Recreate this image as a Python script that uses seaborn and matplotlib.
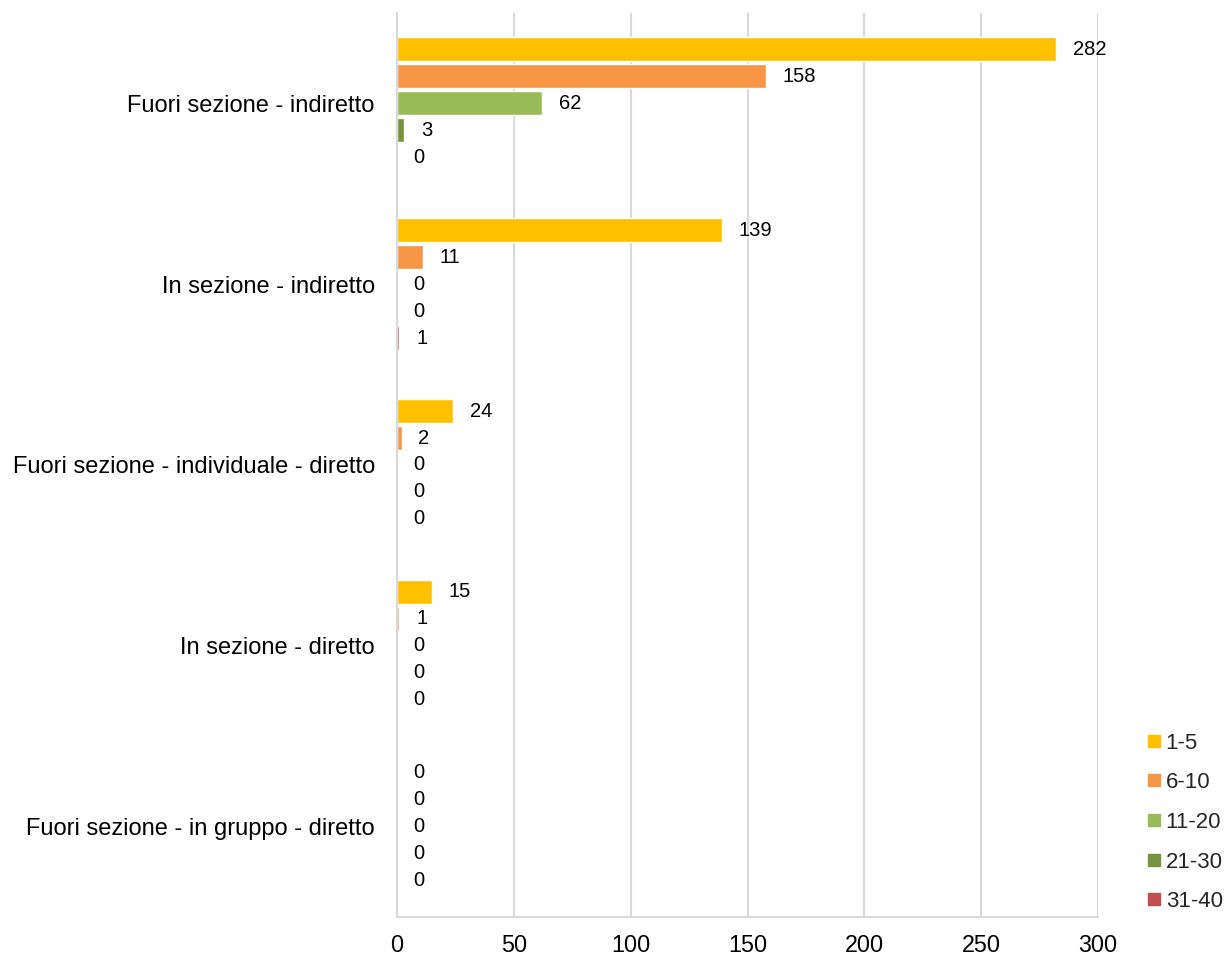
import matplotlib
matplotlib.use("Agg")
import matplotlib.pyplot as plt
from matplotlib.lines import Line2D
import pandas as pd
import seaborn as sns

categories = [
    "Fuori sezione - indiretto",
    "In sezione - indiretto",
    "Fuori sezione - individuale - diretto",
    "In sezione - diretto",
    "Fuori sezione - in gruppo - diretto",
]
bands = ["1-5", "6-10", "11-20", "21-30", "31-40"]
colors = ["#FFC000", "#F79646", "#9BBB59", "#77933C", "#C0504D"]
values = {
    "1-5": [282, 139, 24, 15, 0],
    "6-10": [158, 11, 2, 1, 0],
    "11-20": [62, 0, 0, 0, 0],
    "21-30": [3, 0, 0, 0, 0],
    "31-40": [0, 1, 0, 0, 0],
}
x_ticks = [0, 50, 100, 150, 200, 250, 300]

df = pd.DataFrame(
    [(cat, band, values[band][i]) for band in bands for i, cat in enumerate(categories)],
    columns=["category", "band", "value"],
)

sns.set_theme(style="white")
plt.rcParams["font.family"] = ["Liberation Sans", "DejaVu Sans"]
plt.rcParams["font.size"] = 14

fig = plt.figure(figsize=(12.3, 9.56), dpi=100)
ax = fig.add_axes([0.3228, 0.0408, 0.5699, 0.9456])

sns.barplot(data=df, x="value", y="category", hue="band", order=categories,
            hue_order=bands, palette=colors, orient="h", width=0.746, gap=0.11,
            saturation=1, errorbar=None, legend=False, ax=ax)

for cont in ax.containers:
    ax.bar_label(cont, fmt="%.0f", padding=12, fontsize=14.5, color="#000000")

ax.set_xlim(0, 300)
ax.set_ylim(4.5, -0.5)
ax.set_xticks(x_ticks)
ax.set_xlabel("")
ax.set_ylabel("")
ax.xaxis.grid(True, color="#D9D9D9", linewidth=1.5)
ax.set_axisbelow(True)
for side in ["top", "right"]:
    ax.spines[side].set_visible(False)
for side in ["left", "bottom"]:
    ax.spines[side].set_color("#D9D9D9")
    ax.spines[side].set_linewidth(1.5)
ax.tick_params(axis="x", length=0, pad=12, labelsize=16.8, colors="#000000")
ax.tick_params(axis="y", length=0, pad=16, labelsize=17, colors="#000000")

handles = [Line2D([0], [0], marker="s", linestyle="", markersize=9,
                  markerfacecolor=c, markeredgecolor=c) for c in colors]
fig.legend(handles, bands, loc="upper left", bbox_to_anchor=(0.926, 0.243),
           frameon=False, fontsize=16, handlelength=0.55, handletextpad=0.25,
           labelspacing=0.84, borderaxespad=0)

fig.savefig("out.png", dpi=100)
